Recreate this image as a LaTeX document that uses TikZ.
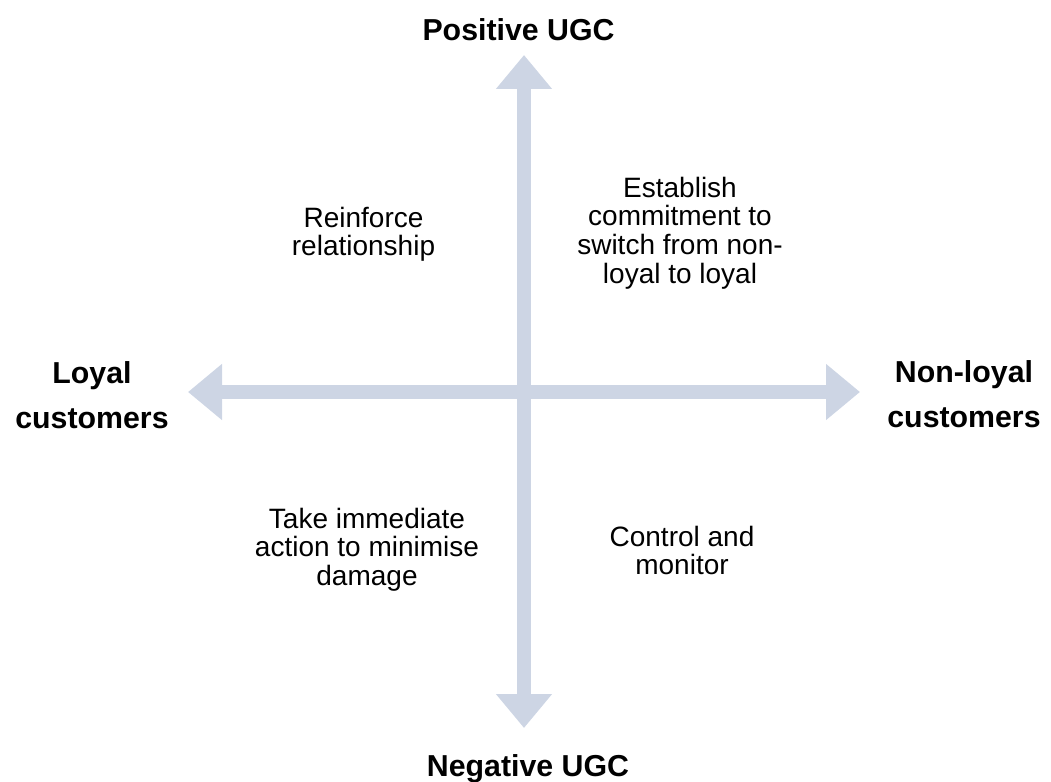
\documentclass[tikz,border=0pt]{standalone}
\usepackage{fontspec}
\setmainfont{Liberation Sans}
\usetikzlibrary{arrows.meta}

\definecolor{axisblue}{RGB}{205,213,228}
% stacked, centred lines whose first baseline is the node's base
\newcommand{\textlines}[1]{\begin{tabular}[t]{@{}c@{}}#1\end{tabular}}

\tikzset{
  axisarrow/.style={draw=axisblue, line width=14pt,
    {Triangle[width=54pt,length=34pt,fill=axisblue]}-{Triangle[width=54pt,length=34pt,fill=axisblue]}},
  axislabel/.style={anchor=base, inner sep=0pt, text=black,
    font=\fontsize{30.3}{45}\selectfont\bfseries},
  quadtext/.style={anchor=base, inner sep=0pt, text=black,
    font=\fontsize{28}{28.4}\selectfont},
}

\begin{document}
\begin{tikzpicture}[x=1pt, y=-1pt]
  \useasboundingbox (0,0) rectangle (1051,781);

  % axis end points
  \coordinate (top) at (524,55);
  \coordinate (bottom) at (524,728);
  \coordinate (left) at (188,392);
  \coordinate (right) at (860,392);

  % the two double-headed axes
  \draw[axisarrow] (bottom) -- (top);
  \draw[axisarrow] (left) -- (right);

  % axis labels
  \node[axislabel] (pos) at (518.5,41) {Positive UGC};
  \node[axislabel] (neg) at (528,776) {Negative UGC};
  \node[axislabel] (loyal) at (92,383) {\textlines{Loyal\\customers}};
  \node[axislabel] (nonloyal) at (964,382) {\textlines{Non-loyal\\customers}};

  % quadrant strategies
  \node[quadtext] (reinforce) at (363.5,227) {\textlines{Reinforce\\relationship}};
  \node[quadtext] (establish) at (680,197) {\textlines{Establish\\commitment to\\switch from non-\\loyal to loyal}};
  \node[quadtext] (action) at (367,528) {\textlines{Take immediate\\action to minimise\\damage}};
  \node[quadtext] (control) at (682,546) {\textlines{Control and\\monitor}};
\end{tikzpicture}
\end{document}
